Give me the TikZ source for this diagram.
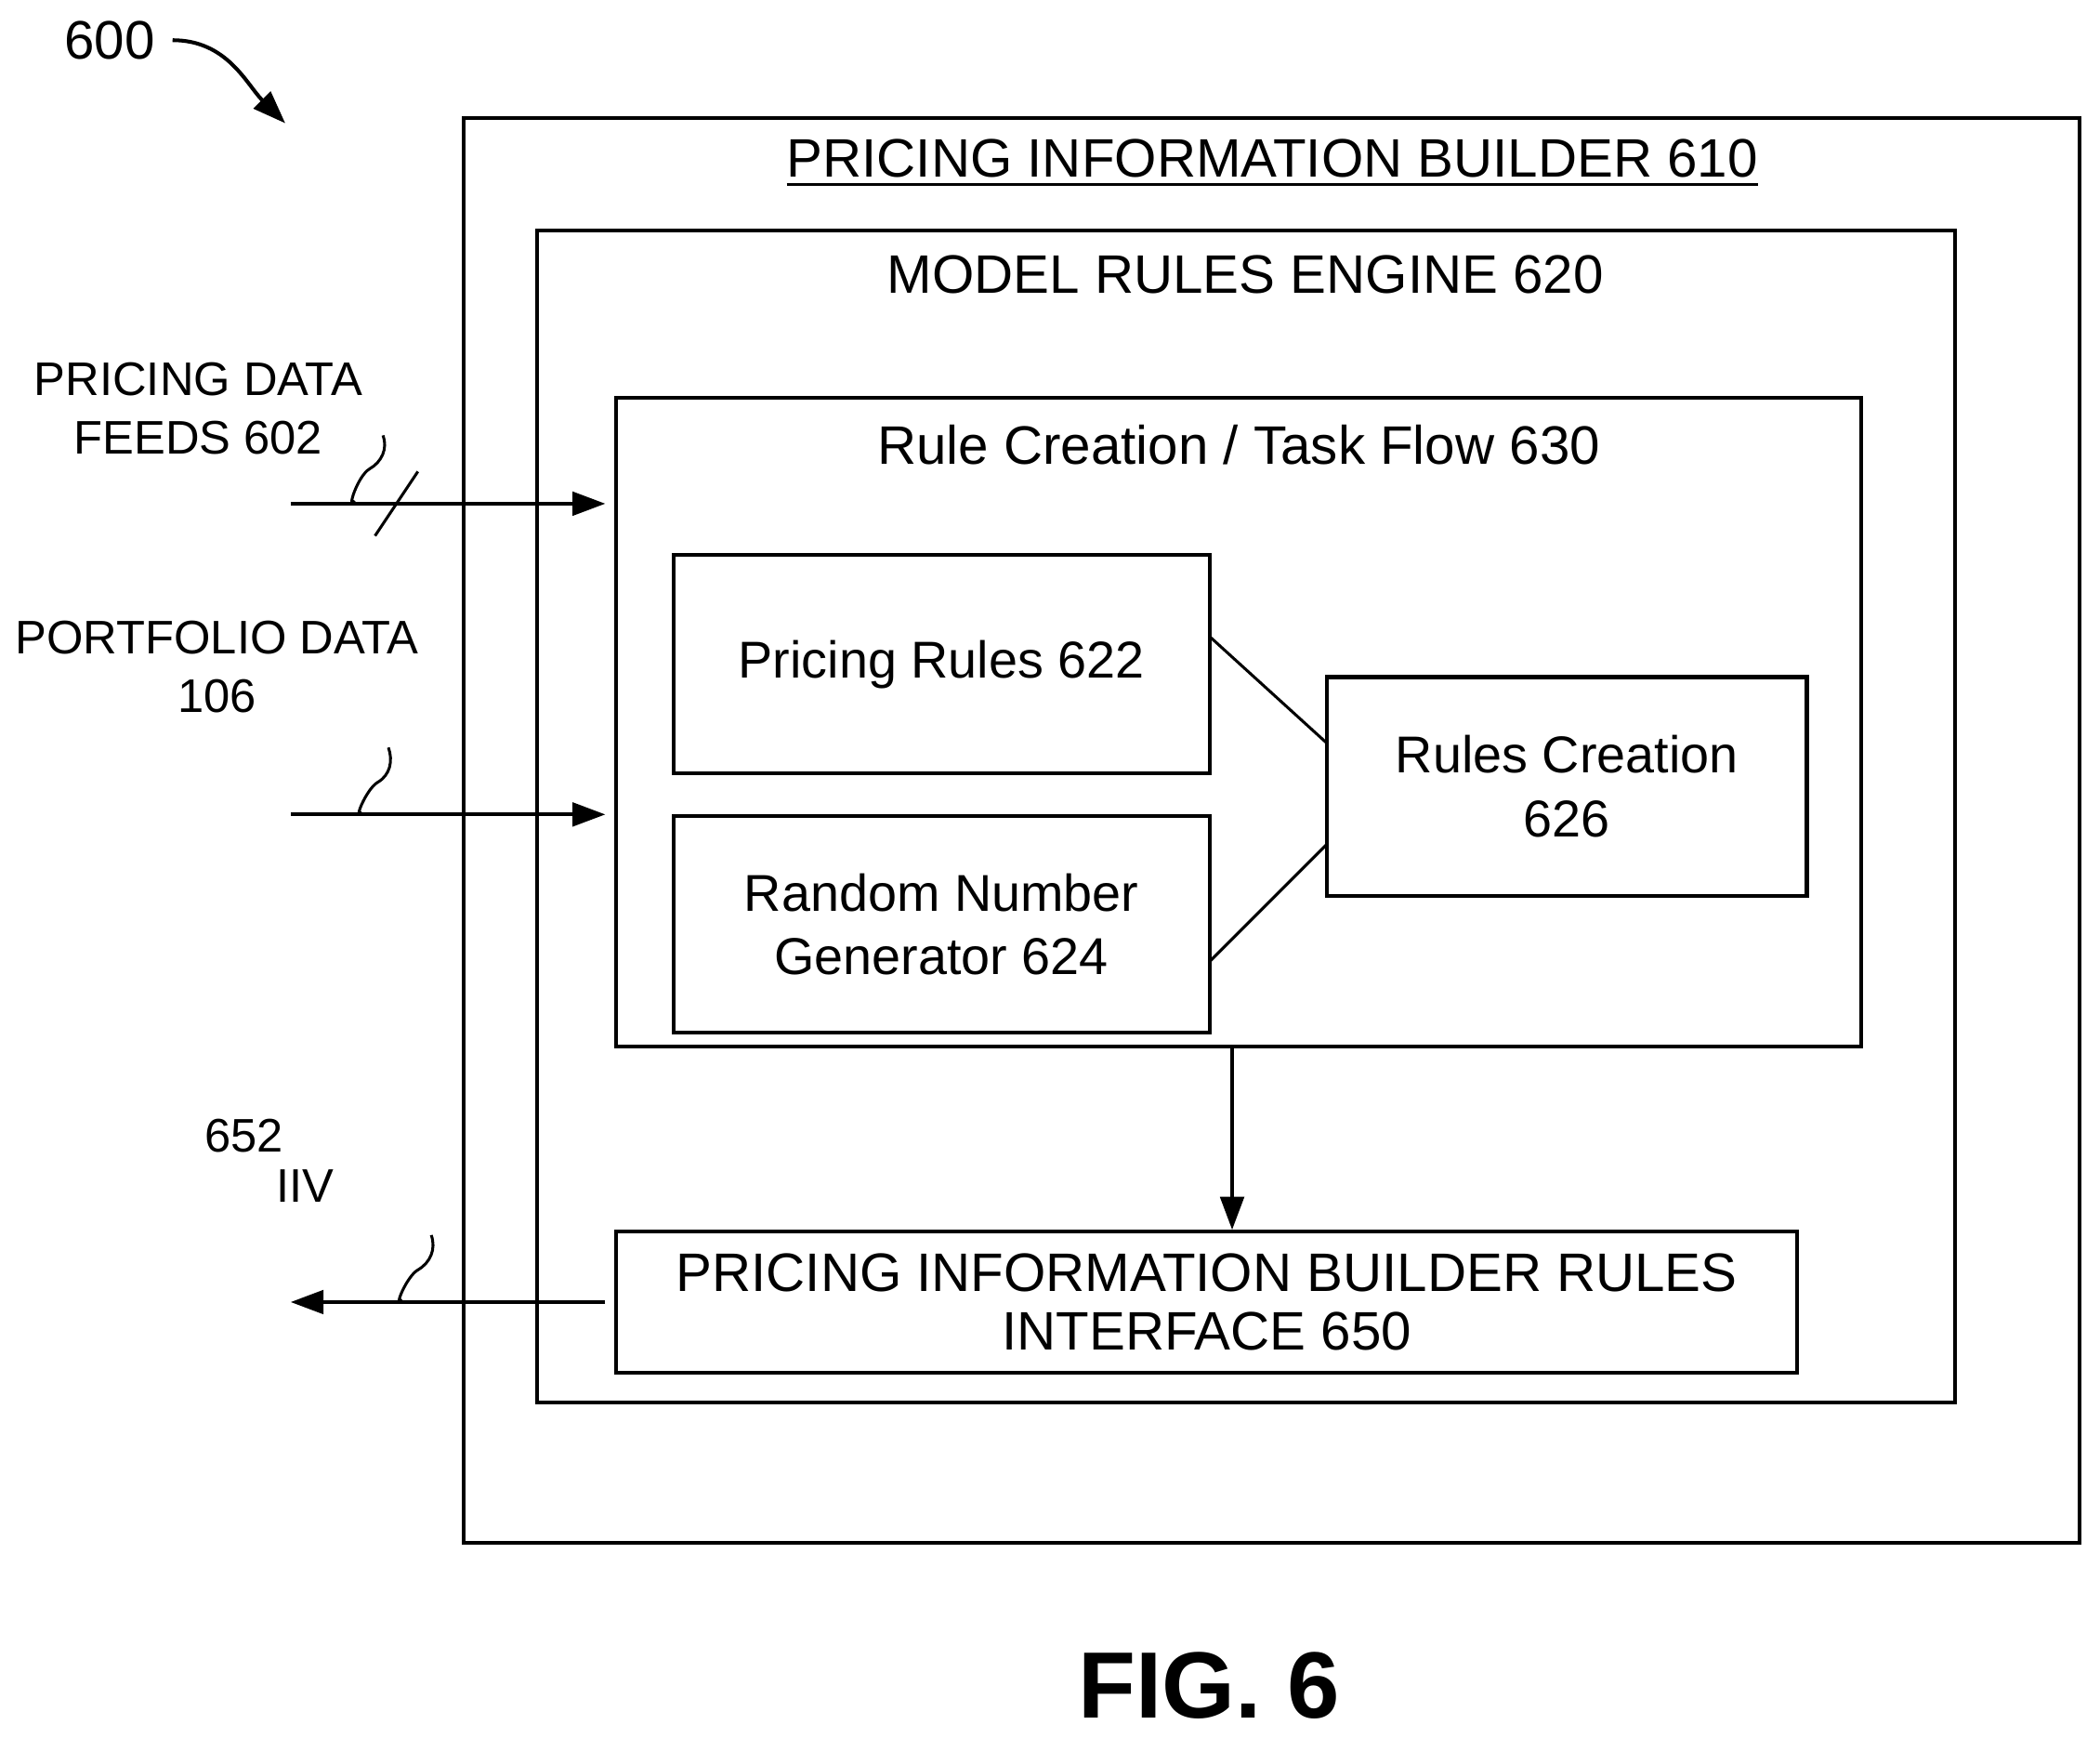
\documentclass[tikz,border=0pt]{standalone}
\usepackage{fontspec}
\setmainfont{Liberation Sans}
\usetikzlibrary{arrows.meta}
\begin{document}
\begin{tikzpicture}[x=0.01cm, y=-0.01cm, thick, font=\fontsize{10}{12.5}\selectfont]
  \tikzstyle{box}=[draw, line width=0.8pt, font=\fontsize{11}{13.5}\selectfont]
  \tikzstyle{flow}=[line width=0.8pt, -{Triangle[length=7pt,width=5pt]}]
  \tikzstyle{wire}=[line width=0.6pt]
  \useasboundingbox (0,0) rectangle (1568,1297);
  % Nested boxes
  \draw[box] (346,88) rectangle (1553,1152);
  \draw[box] (401,172) rectangle (1460,1047);
  \draw[box] (460,297) rectangle (1390,781);
  \node[font=\fontsize{11.5}{13}\selectfont] at (950,122) {\underline{PRICING INFORMATION BUILDER 610}};
  \node[font=\fontsize{11.5}{13}\selectfont] at (930,205) {MODEL RULES ENGINE 620};
  \node[font=\fontsize{11.5}{13}\selectfont] at (925,332) {Rule Creation / Task Flow 630};
  % Inner blocks
  \node[box, align=center, minimum width=4cm, minimum height=1.63cm] (rules) at (703,496) {Pricing Rules 622};
  \node[box, align=center, minimum width=4cm, minimum height=1.61cm] (rng) at (703,690) {Random Number\\Generator 624};
  \node[box, align=center, minimum width=3.58cm, minimum height=1.63cm] (create) at (1170,587) {Rules Creation\\626};
  \node[box, align=center, minimum width=8.81cm, minimum height=1.05cm, inner sep=1pt,
        font=\fontsize{11.5}{12.5}\selectfont] (iface) at (901,972) {PRICING INFORMATION BUILDER RULES\\INTERFACE 650};
  \coordinate (c1) at (991,555);
  \coordinate (c2) at (991,630);
  \draw[wire] (903,475) -- (c1);
  \draw[wire] (903,718) -- (c2);
  \coordinate (flowout) at (920,781);
  \draw[flow] (flowout) -- (iface.north -| flowout);
  % Inputs and output
  \coordinate (in1) at (217,376);
  \coordinate (in2) at (217,608);
  \coordinate (out) at (217,972);
  \coordinate (e1) at (452,376);
  \coordinate (e2) at (452,608);
  \coordinate (e3) at (452,972);
  \draw[flow] (in1) -- (e1);
  \draw[flow] (in2) -- (e2);
  \draw[flow] (e3) -- (out);
  \draw[wire] (280,400) -- (312,352);
  \node[align=center] (feeds) at (148,305) {PRICING DATA\\FEEDS 602};
  \node[align=center] (port) at (162,498) {PORTFOLIO DATA\\106};
  \node (n652) at (182,848) {652};
  \node (iiv) at (228,885) {IIV};
  \draw[wire] (265,374) to[out=-130,in=-150] (276,350) to[out=30,in=-70] (286,325);
  \draw[wire] (270,606) to[out=-130,in=-150] (282,584) to[out=30,in=-70] (290,558);
  \draw[wire] (300,970) to[out=-130,in=-150] (312,948) to[out=30,in=-70] (322,922);
  % Figure reference
  \node (ref) at (82,30) {\fontsize{11.5}{13}\selectfont 600};
  \coordinate (refend) at (213,92);
  \draw[flow] (ref.east) to[out=0,in=135] (refend);
  \node[font=\fontsize{20}{24}\selectfont\bfseries] (fig) at (903,1258) {FIG. 6};
\end{tikzpicture}
\end{document}
